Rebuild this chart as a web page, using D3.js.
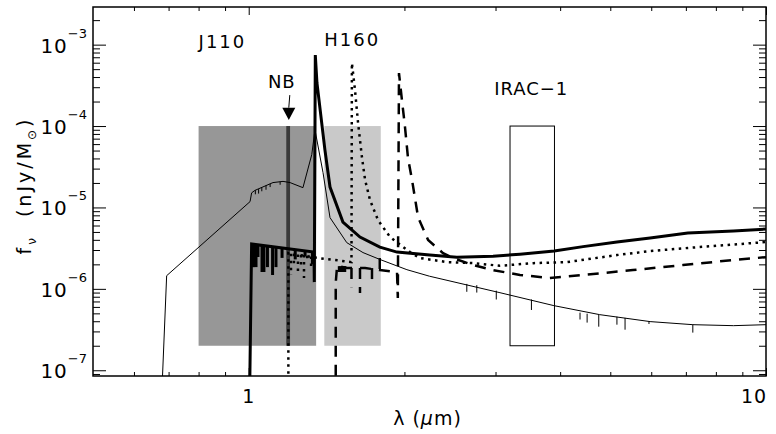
<!DOCTYPE html>
<html>
<head>
<meta charset="utf-8">
<script src="https://cdn.jsdelivr.net/npm/d3@7"></script>
<style>
  body { margin: 0; background: #fff; }
  text { font-family: "DejaVu Sans", sans-serif; fill: #000; }
</style>
</head>
<body>
<div id="sed"></div>
<script>
const margin = {top: 7, right: 10, bottom: 58, left: 93};
const width = 776 - margin.left - margin.right;
const height = 434 - margin.top - margin.bottom;

// Axis ticks
const xMajor = [1, 10];
const xMajorLabels = ['1', '10'];
const yMajor = [1e-7, 1e-6, 1e-5, 1e-4, 1e-3];
const yMajorExp = ['-7', '-6', '-5', '-4', '-3'];

// Filter bands (microns)
const filterNames = ['J110', 'H160', 'NB', 'IRAC-1'];
const filterLo = [0.80, 1.40, 1.182, 3.20];
const filterHi = [1.35, 1.80, 1.202, 3.90];
const filterTop = 1e-4;
const filterBottom = 2e-7;

// SED models: [lambda (micron), f_nu]
const thinSolid = [
  [0.679, 5e-8], [0.694, 1.45e-6], [1.006, 1.18e-5], [1.013, 1.51e-5], [1.028, 1.62e-5],
  [1.114, 2.02e-5], [1.165, 2.09e-5], [1.202, 2.02e-5], [1.273, 1.75e-5], [1.324, 4.46e-5],
  [1.343, 9.0e-5], [1.392, 2.68e-5], [1.436, 7.5e-6], [1.547, 3.70e-6], [1.663, 2.79e-6],
  [1.795, 2.29e-6], [2.022, 1.72e-6], [2.236, 1.43e-6], [3.06, 8.97e-7], [3.89, 6.22e-7],
  [4.77, 4.82e-7], [5.97, 3.96e-7], [7.22, 3.63e-7], [8.65, 3.53e-7], [10.0, 3.63e-7]
];
const thinSpikes = [
  [1.03, 1.63e-5, 1.45e-5], [1.045, 1.68e-5, 1.48e-5], [1.06, 1.75e-5, 1.58e-5],
  [1.08, 1.86e-5, 1.65e-5], [1.10, 1.95e-5, 1.78e-5], [1.15, 2.07e-5, 1.9e-5],
  [2.64, 1.15e-6, 9.2e-7], [2.76, 1.11e-6, 9.0e-7], [3.01, 9.5e-7, 7.4e-7],
  [3.52, 7.4e-7, 5.5e-7], [4.37, 5.1e-7, 4.2e-7], [4.51, 4.95e-7, 3.85e-7],
  [4.75, 4.82e-7, 3.43e-7], [5.15, 4.55e-7, 3.63e-7], [5.34, 4.4e-7, 3.15e-7],
  [5.94, 4.0e-7, 3.7e-7], [7.22, 3.65e-7, 2.9e-7]
];

const thickSolid = [
  [1.004, 5e-8], [1.013, 3.55e-6], [1.337, 2.83e-6], [1.339, 1.21e-6], [1.345, 7.45e-4],
  [1.355, 3.38e-4], [1.404, 5.07e-5], [1.436, 1.78e-5], [1.521, 6.62e-6], [1.641, 4.33e-6],
  [1.793, 3.26e-6], [1.935, 2.83e-6], [2.239, 2.60e-6], [2.526, 2.45e-6], [2.967, 2.52e-6],
  [3.345, 2.67e-6], [3.895, 2.91e-6], [4.43, 3.3e-6], [5.15, 3.76e-6], [5.97, 4.21e-6],
  [7.06, 4.85e-6], [8.65, 5.13e-6], [10.0, 5.42e-6]
];
const thickSpikes = [
  [1.020, 3.52e-6, 1.85e-6], [1.024, 3.5e-6, 1.85e-6], [1.033, 3.48e-6, 1.85e-6],
  [1.042, 3.45e-6, 2.46e-6], [1.061, 3.4e-6, 1.61e-6], [1.070, 3.38e-6, 1.61e-6],
  [1.087, 3.34e-6, 1.85e-6], [1.112, 3.3e-6, 1.48e-6], [1.129, 3.25e-6, 1.85e-6],
  [1.16, 3.2e-6, 2.4e-6], [1.23, 3.05e-6, 2.3e-6], [1.285, 2.93e-6, 2.5e-6],
  [1.328, 2.85e-6, 2.0e-6]
];

const dotted = [
  [1.193, 5e-8], [1.193, 2.75e-6], [1.256, 2.60e-6], [1.361, 2.39e-6], [1.468, 2.26e-6],
  [1.580, 2.13e-6], [1.583, 5.94e-4], [1.605, 2.77e-4], [1.627, 1.09e-4], [1.656, 4.05e-5],
  [1.679, 2.17e-5], [1.716, 1.23e-5], [1.778, 7.0e-6], [1.876, 4.33e-6], [2.05, 2.83e-6],
  [2.143, 2.39e-6], [2.417, 2.13e-6], [2.715, 2.07e-6], [3.06, 1.92e-6], [3.55, 2.07e-6],
  [4.12, 2.13e-6], [5.15, 2.60e-6], [5.97, 2.91e-6], [7.06, 3.18e-6], [10.0, 3.76e-6]
];
const dottedSpikes = [
  [1.207, 2.7e-6, 1.48e-6], [1.223, 2.7e-6, 1.96e-6], [1.245, 2.65e-6, 1.61e-6],
  [1.262, 2.6e-6, 1.8e-6], [1.279, 2.6e-6, 1.36e-6], [1.297, 2.55e-6, 2.13e-6],
  [1.320, 2.5e-6, 1.7e-6]
];

const dashed = [
  [1.473, 5e-8], [1.473, 1.18e-6], [1.482, 1.91e-6], [1.549, 1.80e-6], [1.679, 1.80e-6],
  [1.792, 1.70e-6], [1.935, 1.61e-6], [1.942, 7.71e-7], [1.952, 4.48e-4], [1.978, 2.08e-4],
  [2.005, 9.72e-5], [2.032, 4.05e-5], [2.069, 2.17e-5], [2.125, 7.62e-6], [2.222, 3.98e-6],
  [2.375, 2.75e-6], [2.483, 2.39e-6], [2.715, 1.96e-6], [2.967, 1.70e-6], [3.345, 1.48e-6],
  [3.82, 1.36e-6], [4.43, 1.48e-6], [5.53, 1.70e-6], [6.91, 1.96e-6], [8.65, 2.26e-6],
  [10.0, 2.45e-6]
];
const dashedSpikes = [
  [1.495, 1.9e-6, 1.61e-6], [1.505, 1.9e-6, 1.61e-6], [1.515, 1.9e-6, 1.61e-6],
  [1.525, 1.9e-6, 1.61e-6], [1.535, 1.9e-6, 1.61e-6], [1.580, 1.8e-6, 1.05e-6],
  [1.641, 1.8e-6, 8.9e-7], [1.731, 1.8e-6, 1.3e-6], [1.792, 2.39e-6, 1.61e-6]
];

// Scales
const x = d3.scaleLog().domain([0.5, 10]).range([0, width]);
const y = d3.scaleLog().domain([8.5e-8, 2.9e-3]).range([height, 0]);

const svg = d3.select('#sed')
  .append('svg')
    .attr('width', 776)
    .attr('height', 434)
  .append('g')
    .attr('transform', 'translate(' + margin.left + ',' + margin.top + ')');

svg.append('clipPath').attr('id', 'plot-clip')
  .append('rect').attr('width', width).attr('height', height);

// Filter boxes
const boxColors = ['#979797', '#c9c9c9', '#3a3a3a', 'none'];
svg.selectAll('.filter')
  .data(filterNames)
  .enter().append('rect')
    .attr('class', 'filter')
    .attr('x', (d, i) => x(filterLo[i]))
    .attr('width', (d, i) => x(filterHi[i]) - x(filterLo[i]))
    .attr('y', y(filterTop))
    .attr('height', y(filterBottom) - y(filterTop))
    .attr('fill', (d, i) => boxColors[i])
    .attr('stroke', (d, i) => i === 3 ? '#000' : 'none')
    .attr('stroke-width', 1);

// Lines
const line = d3.line()
  .x(d => x(d[0]))
  .y(d => y(d[1]));

const curves = svg.append('g').attr('clip-path', 'url(#plot-clip)');

function drawSed(data, spikes, width_, dash) {
  curves.append('path')
    .datum(data)
    .attr('d', line)
    .attr('fill', 'none')
    .attr('stroke', '#000')
    .attr('stroke-width', width_)
    .attr('stroke-dasharray', dash)
    .attr('stroke-linejoin', 'miter');
  curves.selectAll(null)
    .data(spikes)
    .enter().append('line')
      .attr('x1', d => x(d[0])).attr('x2', d => x(d[0]))
      .attr('y1', d => y(d[1])).attr('y2', d => y(d[2]))
      .attr('stroke', '#000')
      .attr('stroke-width', width_)
      .attr('stroke-dasharray', dash);
}
drawSed(thinSolid, thinSpikes, 1, null);
drawSed(dotted, dottedSpikes, 2.5, '2.5,4.5');
drawSed(dashed, dashedSpikes, 2.5, '11,8');
drawSed(thickSolid, thickSpikes, 3, null);

// Filter labels
svg.append('text').attr('x', x(filterLo[0])).attr('y', 41)
  .style('font-size', '18px').style('letter-spacing', '2px').text(filterNames[0]);
svg.append('text').attr('x', x(filterLo[1])).attr('y', 39)
  .style('font-size', '18px').style('letter-spacing', '2px').text(filterNames[1]);
svg.append('text').attr('x', x(1.19) - 6).attr('y', 81)
  .attr('text-anchor', 'middle')
  .style('font-size', '18px').style('letter-spacing', '1px').text(filterNames[2]);
svg.append('text').attr('x', (x(filterLo[3]) + x(filterHi[3])) / 2 - 1).attr('y', 88)
  .attr('text-anchor', 'middle')
  .style('font-size', '18px').style('letter-spacing', '1px').text(filterNames[3].replace('-', '\u2212'));

// NB arrow
const ax = x(1.19) + 1;
svg.append('line')
  .attr('x1', ax + 1).attr('y1', y(2.4e-4))
  .attr('x2', ax).attr('y2', y(1.68e-4))
  .attr('stroke', '#000').attr('stroke-width', 1);
svg.append('path')
  .attr('d', 'M' + (ax - 6.5) + ',' + y(1.68e-4) + 'L' + (ax + 6.5) + ',' + y(1.68e-4) + 'L' + ax + ',' + y(1.19e-4) + 'Z')
  .attr('fill', '#000');

// Axes: inward ticks on all sides
const yMinor = y.ticks().filter(t => yMajor.indexOf(t) < 0);
const xMinor = x.ticks().filter(t => xMajor.indexOf(t) < 0 && t > 0.5);

svg.append('g').attr('class', 'axis axis-x')
  .attr('transform', 'translate(0,' + height + ')')
  .call(d3.axisBottom(x).tickValues(xMinor).tickSize(-4).tickFormat(''));
svg.append('g').attr('class', 'axis axis-x')
  .attr('transform', 'translate(0,' + height + ')')
  .call(d3.axisBottom(x).tickValues(xMajor).tickSize(-8).tickFormat(''));
svg.append('g').attr('class', 'axis axis-x')
  .call(d3.axisTop(x).tickValues(xMinor).tickSize(-4).tickFormat(''));
svg.append('g').attr('class', 'axis axis-x')
  .call(d3.axisTop(x).tickValues(xMajor).tickSize(-8).tickFormat(''));
svg.append('g').attr('class', 'axis axis-y')
  .call(d3.axisLeft(y).tickValues(yMinor).tickSize(-7).tickFormat(''));
svg.append('g').attr('class', 'axis axis-y')
  .call(d3.axisLeft(y).tickValues(yMajor).tickSize(-13).tickFormat(''));
svg.append('g').attr('class', 'axis axis-y')
  .attr('transform', 'translate(' + width + ',0)')
  .call(d3.axisRight(y).tickValues(yMinor).tickSize(-7).tickFormat(''));
svg.append('g').attr('class', 'axis axis-y')
  .attr('transform', 'translate(' + width + ',0)')
  .call(d3.axisRight(y).tickValues(yMajor).tickSize(-13).tickFormat(''));
svg.selectAll('.axis .domain').remove();
svg.selectAll('.axis line').attr('stroke', '#000').attr('stroke-width', 1);

svg.append('rect')
  .attr('width', width).attr('height', height)
  .attr('fill', 'none').attr('stroke', '#000').attr('stroke-width', 1.5);

// Tick labels
svg.selectAll('.xlab')
  .data(xMajor)
  .enter().append('text')
    .attr('class', 'xlab')
    .attr('x', (d, i) => i === 1 ? x(d) - 12 : x(d))
    .attr('y', height + 27)
    .attr('text-anchor', 'middle')
    .style('font-size', '19px')
    .style('letter-spacing', '1px')
    .text((d, i) => xMajorLabels[i]);

const ylab = svg.selectAll('.ylab')
  .data(yMajor)
  .enter().append('text')
    .attr('class', 'ylab')
    .attr('x', -6)
    .attr('y', d => y(d) + 8)
    .attr('text-anchor', 'end')
    .style('font-size', '20px');
ylab.append('tspan').style('letter-spacing', '1px').text('10');
ylab.append('tspan').attr('dy', -15).style('font-size', '13px')
  .text((d, i) => yMajorExp[i].replace('-', '\u2212'));

// Axis titles
const xt = svg.append('text')
  .attr('x', width / 2 - 2).attr('y', height + 49)
  .attr('text-anchor', 'middle')
  .style('font-size', '19px').style('letter-spacing', '1px');
xt.append('tspan').text('\u03bb (');
xt.append('tspan').style('font-style', 'italic').text('\u03bc');
xt.append('tspan').text('m)');

const yt = svg.append('text')
  .attr('transform', 'translate(' + (-62) + ',' + (height / 2 - 6) + ') rotate(-90)')
  .attr('text-anchor', 'middle')
  .style('font-size', '19px').style('letter-spacing', '3px');
yt.append('tspan').text('f');
yt.append('tspan').attr('dy', 5).style('font-size', '12px').text('\u03bd');
yt.append('tspan').attr('dy', -5).text('\u00a0\u00a0(nJy/M');
yt.append('tspan').attr('dy', 5).style('font-size', '12px').text('\u2299');
yt.append('tspan').attr('dy', -5).text(')');
</script>
</body>
</html>
